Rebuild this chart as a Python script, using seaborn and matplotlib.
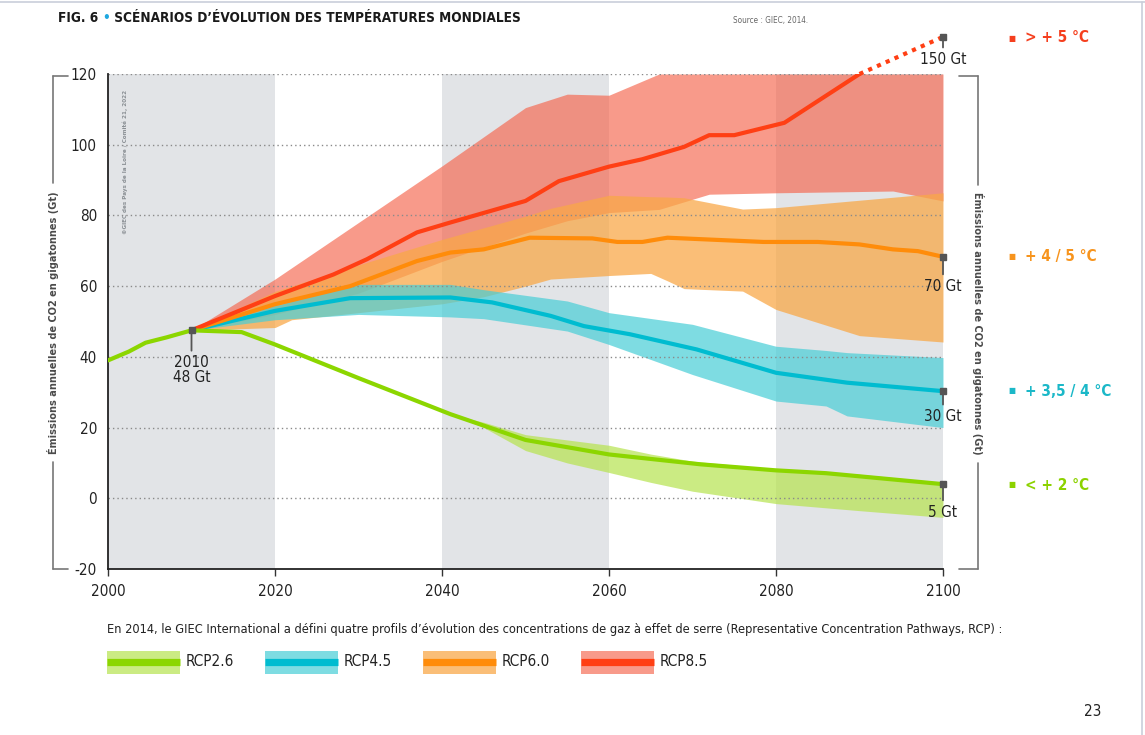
import numpy as np
import pandas as pd
import matplotlib
matplotlib.use("Agg")
import matplotlib.pyplot as plt
import seaborn as sns
from matplotlib.lines import Line2D
from matplotlib.patches import Rectangle

# ---------------- data ----------------
hist_years = [2000, 2002.5, 2004.5, 2007, 2010]
hist_vals = [39, 41.5, 44, 45.5, 47.5]

rcp26_years = [2010, 2016, 2020, 2030, 2041, 2050, 2060, 2071, 2080, 2086, 2100]
rcp26_vals = [47.5, 47, 43.5, 34, 23.8, 16.5, 12.4, 9.6, 7.9, 7.1, 4.0]
rcp26_band_years = [2041, 2045, 2050, 2055, 2060, 2065, 2070, 2080, 2090, 2100]
rcp26_low = [23.8, 20, 13.5, 10, 7.3, 4.5, 2, -1.5, -3.5, -5.4]
rcp26_high = [23.8, 21.5, 18, 16.5, 15, 12.5, 10.5, 8.3, 6.8, 4.5]

rcp45_years = [2010, 2020, 2029, 2041, 2046, 2053, 2057, 2062.5, 2070.5, 2080, 2088.5, 2100]
rcp45_vals = [47.5, 53, 56.6, 56.8, 55.4, 51.6, 48.7, 46.4, 42.1, 35.5, 32.7, 30.3]
rcp45_band_years = [2010, 2020, 2030, 2041, 2045, 2055, 2060, 2070, 2080, 2086, 2088.5, 2100]
rcp45_high = [47.5, 54.5, 60.5, 60.5, 59, 55.8, 52.5, 49.2, 43, 41.8, 41.2, 39.8]
rcp45_low = [47.5, 50.5, 52, 51.3, 50.8, 47.3, 43.5, 35, 27.5, 26.1, 23.3, 20]

rcp60_years = [2010, 2020, 2029, 2037, 2041, 2045, 2050.5, 2058, 2061, 2064, 2067,
               2078.5, 2085, 2090, 2094, 2097, 2100]
rcp60_vals = [47.5, 54.9, 60, 67.1, 69.5, 70.4, 73.7, 73.5, 72.5, 72.5, 73.7,
              72.5, 72.5, 71.8, 70.4, 69.9, 68.3]
rcp60_band_years = [2010, 2020, 2022, 2030, 2040, 2045, 2050, 2053, 2060, 2065, 2067,
                    2069, 2076, 2080, 2090, 2100]
rcp60_high = [47.5, 58.5, 60, 66, 73.2, 76.5, 79.8, 82, 85.7, 85.3, 85.2, 85, 81.8,
              82.2, 84.3, 86.4]
rcp60_low = [47.5, 48.3, 50.5, 52.5, 55, 57, 60, 62, 63, 63.6, 61.5, 59.3, 58.6,
             53.4, 46, 44.2]

rcp85_years = [2010, 2020, 2027, 2031, 2037, 2041, 2050, 2054, 2060, 2064, 2069,
               2072, 2075, 2081, 2090]
rcp85_vals = [47.5, 57.2, 63.3, 67.6, 75.2, 78, 84.1, 89.7, 93.8, 95.9, 99.4,
              102.7, 102.7, 106.2, 120]
rcp85_ext_years = [2090, 2100]
rcp85_ext_vals = [120, 130.5]
rcp85_band_years = [2010, 2020, 2030, 2040, 2050, 2055, 2060, 2066, 2072, 2080, 2094, 2100]
rcp85_high = [47.5, 62, 78, 94, 110.5, 114.3, 114, 120, 120, 120, 120, 120]
rcp85_low = [47.5, 52, 58, 67, 75, 78.5, 80.8, 81.7, 86, 86.4, 86.9, 84.1]

y_ticks = [-20, 0, 20, 40, 60, 80, 100, 120]
x_ticks = [2000, 2020, 2040, 2060, 2080, 2100]
shade_periods = [(2000, 2020), (2040, 2060), (2080, 2100)]

end_points = [(2100, 130.5, "150 Gt", -11), (2100, 68.3, "70 Gt", -16),
              (2100, 30.3, "30 Gt", -13), (2100, 4.0, "5 Gt", -15)]

scenario_names = ["RCP2.6", "RCP4.5", "RCP6.0", "RCP8.5"]
temp_labels = ["> + 5 °C", "+ 4 / 5 °C", "+ 3,5 / 4 °C", "< + 2 °C"]

# ---------------- style ----------------
sns.set_theme(style="white")
plt.rcParams["font.family"] = ["DejaVu Sans"]
plt.rcParams["font.stretch"] = "condensed"

W, H = 1145, 735
fx = lambda px: px / W
fy = lambda py: 1 - py / H

c_green, c_green_f = "#8CD600", "#B6E34E"
c_teal, c_teal_f = "#00BCD0", "#48CED7"
c_orange, c_orange_f = "#FF8C0A", "#F9A847"
c_red, c_red_f = "#FF3F14", "#F5644B"
gray_band = "#E2E4E7"

fig = plt.figure(figsize=(W / 100, H / 100), dpi=100)
ax = fig.add_axes([fx(108), fy(569), (943 - 108) / W, (569 - 74) / H])
ax.set_facecolor("white")

for a, b in shade_periods:
    ax.axvspan(a, b, color=gray_band, lw=0, zorder=0)

ax.fill_between(rcp85_band_years, rcp85_low, rcp85_high, color=c_red_f, alpha=0.65, lw=0, zorder=1)
ax.fill_between(rcp60_band_years, rcp60_low, rcp60_high, color=c_orange_f, alpha=0.74, lw=0, zorder=1.1)
ax.fill_between(rcp45_band_years, rcp45_low, rcp45_high, color=c_teal_f, alpha=0.7, lw=0, zorder=1.2)
ax.fill_between(rcp26_band_years, rcp26_low, rcp26_high, color=c_green_f, alpha=0.7, lw=0, zorder=1.3)

for v in y_ticks[1:]:
    ax.axhline(v, color="#8a8a8a", lw=1.0, ls=(0, (1, 2.2)), zorder=2)

lw = 3.0
sns.lineplot(x=rcp45_years, y=rcp45_vals, ax=ax, color=c_teal, lw=lw, zorder=4)
sns.lineplot(x=rcp60_years, y=rcp60_vals, ax=ax, color=c_orange, lw=lw, zorder=4.1)
sns.lineplot(x=rcp85_years, y=rcp85_vals, ax=ax, color=c_red, lw=lw, zorder=4.2)
sns.lineplot(x=rcp26_years, y=rcp26_vals, ax=ax, color=c_green, lw=lw, zorder=4.3)
sns.lineplot(x=hist_years, y=hist_vals, ax=ax, color=c_green, lw=lw, zorder=4.3)
ax.plot(rcp85_ext_years, rcp85_ext_vals, color=c_red, lw=lw, ls=(0, (1, 1.3)),
        clip_on=False, zorder=4.2)

ax.set_xlim(2000, 2100)
ax.set_ylim(-20, 120)
ax.set_xticks(x_ticks)
ax.set_yticks(y_ticks)
ax.set_xticklabels([str(t) for t in x_ticks])
ax.set_yticklabels([str(t) for t in y_ticks])
ax.tick_params(axis="y", length=0, pad=8, labelsize=11, labelcolor="#222")
ax.tick_params(axis="x", length=5, width=1, color="#333", direction="out", pad=6,
               labelsize=11, labelcolor="#222", bottom=True)
for s in ["top", "right"]:
    ax.spines[s].set_visible(False)
for s in ["left", "bottom"]:
    ax.spines[s].set_color("#222")
    ax.spines[s].set_linewidth(1.3)
ax.set_xlabel("")
ax.set_ylabel("")

# annotations
ann_kw = dict(textcoords="offset points", ha="center", va="top", fontsize=11, color="#222",
              arrowprops=dict(arrowstyle="-", color="#555", lw=1.3, shrinkA=1, shrinkB=0),
              annotation_clip=False, zorder=7)
ax.plot(hist_years[-1], hist_vals[-1], marker="s", ms=4, color="#555", zorder=7)
ax.annotate(f"{hist_years[-1]}\n48 Gt", xy=(hist_years[-1], hist_vals[-1]), xytext=(0, -18),
            linespacing=1.0, **ann_kw)
for xv, yv, lab, off in end_points:
    ax.plot(xv, yv, marker="s", ms=4, color="#555", clip_on=False, zorder=7)
    ax.annotate(lab, xy=(xv, yv), xytext=(0, off), **ann_kw)

# ---------------- texts ----------------
renderer = fig.canvas.get_renderer()

def fit(t, target):
    bb = t.get_window_extent(renderer)
    length = max(bb.width, bb.height)
    t.set_fontsize(t.get_fontsize() * target / length)

title_str = "FIG. 6 \u2022 SCÉNARIOS D\u2019ÉVOLUTION DES TEMPÉRATURES MONDIALES"
probe = fig.text(fx(58), fy(18), title_str, fontsize=13, weight="bold", ha="left", va="center")
fit(probe, 462)
tfs = probe.get_fontsize()
probe.remove()
p1 = fig.text(fx(58), fy(18), "FIG. 6 ", fontsize=tfs, weight="bold",
              color="#1a1a1a", ha="left", va="center")
e1 = p1.get_window_extent(renderer)
bullet = fig.text(e1.x1 / W, fy(18), "\u2022", fontsize=tfs, weight="bold",
                  color="#1FA8E0", ha="left", va="center")
eb = bullet.get_window_extent(renderer)
fig.text(eb.x1 / W, fy(18), " SCÉNARIOS D\u2019ÉVOLUTION DES TEMPÉRATURES MONDIALES",
         fontsize=tfs, weight="bold", color="#1a1a1a", ha="left", va="center")

src = fig.text(fx(733), fy(21), "Source : GIEC, 2014.", fontsize=7, color="#666",
               ha="left", va="center")
fit(src, 75)

wm = fig.text(fx(125), fy(162), "©GIEC des Pays de la Loire / Comité 21, 2022", fontsize=6,
              color="#8a8f94", rotation=90, ha="center", va="center", weight="bold")
fit(wm, 145)

ylab = "Émissions annuelles de CO2 en gigatonnes (Gt)"
yl = fig.text(fx(53), fy(323), ylab, rotation=90, ha="center", va="center",
              fontsize=11, weight="bold", color="#4a4a4a")
fit(yl, 262)
yr = fig.text(fx(978), fy(323), ylab, rotation=270, ha="center", va="center",
              fontsize=yl.get_fontsize(), weight="bold", color="#4a4a4a")

# brackets
bk = dict(color="#777", lw=1.2)
for seg in [([53, 53], [76, 183]), ([53, 53], [462, 569]), ([53, 68], [76, 76]),
            ([53, 68], [569, 569]), ([978, 978], [76, 185]), ([978, 978], [463, 569]),
            ([959, 978], [76, 76]), ([959, 978], [569, 569])]:
    fig.add_artist(Line2D([fx(v) for v in seg[0]], [fy(v) for v in seg[1]], **bk))

# right temperature labels
temp_colors = ["#F53F1E", "#F7941D", "#1BB8C8", "#8CD200"]
temp_y = [38, 257, 391, 485]
for lab, col, yy in zip(temp_labels, temp_colors, temp_y):
    fig.text(fx(1012), fy(yy), "\u25A0", color=col, fontsize=6, ha="center", va="center")
    fig.text(fx(1025), fy(yy), lab, color=col, fontsize=11, weight="bold",
             ha="left", va="center")

cap = fig.text(fx(107), fy(630), "En 2014, le GIEC International a défini quatre profils "
               "d\u2019évolution des concentrations de gaz à effet de serre "
               "(Representative Concentration Pathways, RCP) :",
               fontsize=10, color="#222", ha="left", va="center")
fit(cap, 895)

# legend
leg_fill = [c_green_f, c_teal_f, c_orange_f, c_red_f]
leg_alpha = [0.7, 0.7, 0.74, 0.65]
leg_line = [c_green, c_teal, c_orange, c_red]
leg_x = [107, 265, 423, 581]
for name, fcol, al, lcol, x0 in zip(scenario_names, leg_fill, leg_alpha, leg_line, leg_x):
    fig.add_artist(Rectangle((fx(x0), fy(674)), 73 / W, 23 / H, facecolor=fcol, alpha=al,
                             lw=0, transform=fig.transFigure))
    fig.add_artist(Line2D([fx(x0), fx(x0 + 73)], [fy(662), fy(662)], color=lcol, lw=5.2,
                          solid_capstyle="butt"))
    fig.text(fx(x0 + 79), fy(662), name, fontsize=11, color="#222", ha="left", va="center")

fig.text(fx(1093), fy(712), "23", fontsize=11, color="#222", ha="center", va="center")

# page frame lines
fig.add_artist(Line2D([0, 1], [fy(2), fy(2)], color="#C9CEDA", lw=1.2))
fig.add_artist(Line2D([fx(1142), fx(1142)], [fy(2), fy(735)], color="#C9CEDA", lw=1.2))

fig.savefig("out.png", dpi=100)
